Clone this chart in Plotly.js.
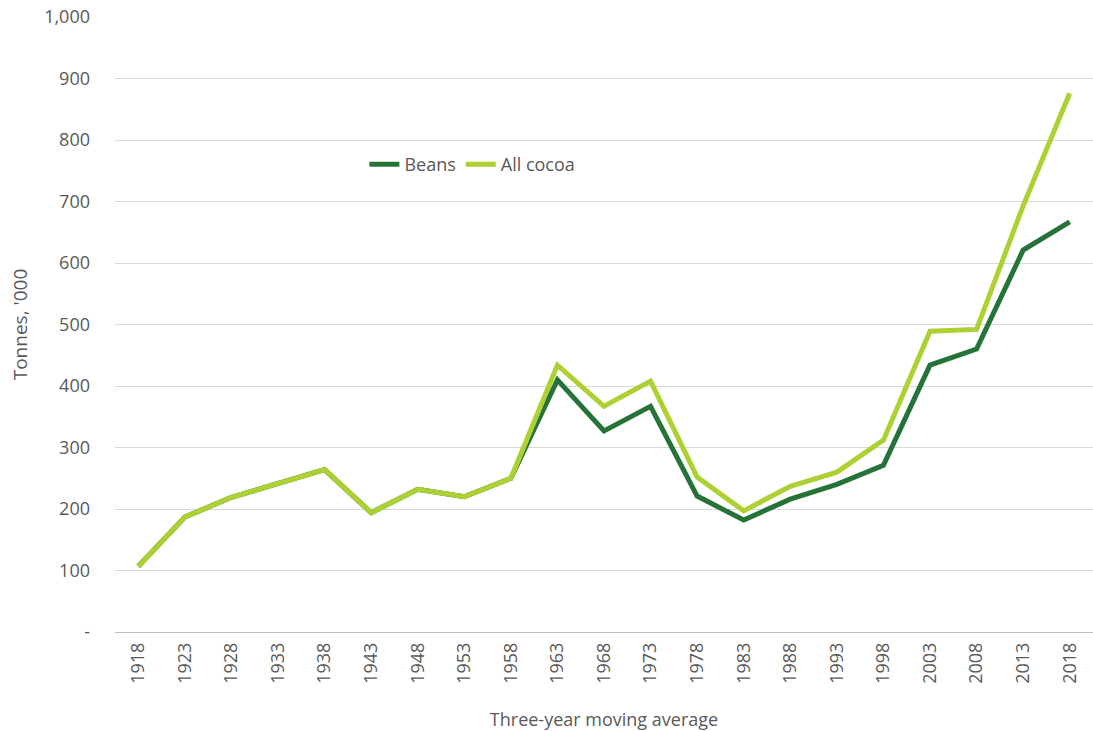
<!DOCTYPE html>
<html><head><meta charset="utf-8">
<script src="https://cdn.plot.ly/plotly-3.0.1.min.js"></script>
<style>html,body{margin:0;padding:0;background:#fff}#chart{width:1093px;height:731px}</style>
</head><body><div id="chart"></div>
<script>
const years = ['1918','1923','1928','1933','1938','1943','1948','1953','1958','1963','1968','1973','1978','1983','1988','1993','1998','2003','2008','2013','2018'];
const beans = [107,187,219,242,264,194,232,220,250,410,327,367,221,182,216,240,271,434,460,621,667];
const allCocoa = [107,187,219,242,264,194,232,220,250,434,367,408,252,197,237,260,312,489,492,693,876];
const yTickVals = [0,100,200,300,400,500,600,700,800,900,1000];
const yTickText = ['-','100','200','300','400','500','600','700','800','900','1,000'];

const font = {family:'Open Sans, Liberation Sans, Arial, sans-serif', color:'#595959'};
Plotly.newPlot('chart',[
 {x:years,y:beans,name:'Beans',type:'scatter',mode:'lines',line:{color:'#26733a',width:5}},
 {x:years,y:allCocoa,name:'All cocoa',type:'scatter',mode:'lines',line:{color:'#add132',width:5}}
],{
 width:1093,height:731,
 margin:{l:115,r:0,t:17,b:99},
 paper_bgcolor:'#fff',plot_bgcolor:'#fff',
 font:font,
 showlegend:true,
 legend:{orientation:'h',x:0.255,y:0.76,xanchor:'left',yanchor:'middle',font:{size:18,color:'#595959'},bgcolor:'rgba(0,0,0,0)',itemwidth:30},
 xaxis:{type:'category',range:[-0.5,20.5],tickangle:-90,tickfont:{size:18,color:'#595959'},showgrid:false,zeroline:false,showline:false,ticks:'',ticklabelstandoff:6,
   title:{text:'Three-year moving average',font:{size:18,color:'#595959'},standoff:30}},
 yaxis:{range:[0,1000],tickvals:yTickVals,ticktext:yTickText,tickfont:{size:18,color:'#595959'},gridcolor:'#d9d9d9',gridwidth:1,zeroline:true,zerolinecolor:'#bfbfbf',zerolinewidth:1,ticks:'',ticklabelstandoff:24,
   title:{text:"Tonnes, '000",font:{size:19,color:'#595959'},standoff:11}}
},{displayModeBar:false});
</script></body></html>
